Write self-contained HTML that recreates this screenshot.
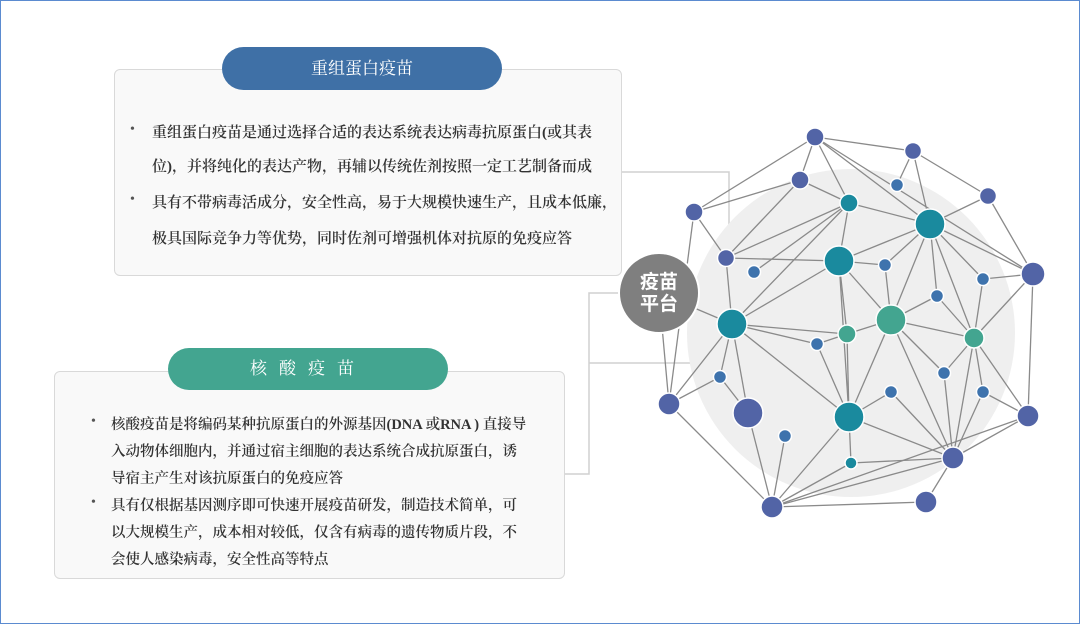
<!DOCTYPE html>
<html><head><meta charset="utf-8"><style>
body{margin:0;width:1080px;height:624px;background:#fff;position:relative;overflow:hidden;font-family:"Liberation Serif","Noto Serif CJK SC",serif;}
.frame{position:absolute;left:0;top:0;width:1078px;height:622px;border:1px solid #5b8bd0;}
.box{position:absolute;background:#f9f9f9;border:1.5px solid #d9d9d9;border-radius:6px;box-sizing:border-box;}
.pill{position:absolute;border-radius:22px;color:#fff;text-align:center;font-size:17px;}
.t{position:absolute;font-size:15px;color:#333;white-space:nowrap;font-weight:600;}
.b{position:absolute;font-size:14px;color:#555;}
</style></head><body>
<div class="frame"></div>
<svg width="1080" height="624" style="position:absolute;left:0;top:0">
<g fill="none" stroke="#d0d0d0" stroke-width="1.5">
<polyline points="621,172 729,172 729,363 589,363"/>
<polyline points="620,293 589,293 589,474 564,474"/>
</g>
</svg>
<div class="box" style="left:114px;top:69px;width:508px;height:207px"></div>
<div class="pill" style="left:222px;top:47px;width:280px;height:43px;line-height:43px;background:#3f70a6">重组蛋白疫苗</div>
<div class="b" style="left:130px;top:122px">•</div>
<div class="b" style="left:130px;top:192px">•</div>
<div class="t" style="left:152px;top:121px">重组蛋白疫苗是通过选择合适的表达系统表达病毒抗原蛋白(或其表</div>
<div class="t" style="left:152px;top:155px">位)，并将纯化的表达产物，再辅以传统佐剂按照一定工艺制备而成</div>
<div class="t" style="left:152px;top:191px">具有不带病毒活成分，安全性高，易于大规模快速生产，且成本低廉，</div>
<div class="t" style="left:152px;top:227px">极具国际竞争力等优势，同时佐剂可增强机体对抗原的免疫应答</div>

<div class="box" style="left:54px;top:371px;width:511px;height:208px"></div>
<div class="pill" style="left:168px;top:348px;width:280px;height:42px;line-height:42px;background:#43a590;letter-spacing:12px">核酸疫苗</div>
<div class="b" style="left:91px;top:414px">•</div>
<div class="b" style="left:91px;top:495px">•</div>
<div class="t" style="left:111px;top:413px;font-size:14.5px">核酸疫苗是将编码某种抗原蛋白的外源基因(DNA 或RNA ) 直接导</div>
<div class="t" style="left:111px;top:440px;font-size:14.5px">入动物体细胞内，并通过宿主细胞的表达系统合成抗原蛋白，诱</div>
<div class="t" style="left:111px;top:467px;font-size:14.5px">导宿主产生对该抗原蛋白的免疫应答</div>
<div class="t" style="left:111px;top:494px;font-size:14.5px">具有仅根据基因测序即可快速开展疫苗研发，制造技术简单，可</div>
<div class="t" style="left:111px;top:521px;font-size:14.5px">以大规模生产，成本相对较低，仅含有病毒的遗传物质片段，不</div>
<div class="t" style="left:111px;top:548px;font-size:14.5px">会使人感染病毒，安全性高等特点</div>

<svg width="1080" height="624" style="position:absolute;left:0;top:0">
<circle cx="851" cy="333" r="164" fill="#efefef"/>
<g stroke="#8a8a8a" stroke-width="1.3">
<line x1="815" y1="137" x2="913" y2="151"/><line x1="815" y1="137" x2="800" y2="180"/><line x1="815" y1="137" x2="694" y2="212"/>
<line x1="815" y1="137" x2="849" y2="203"/><line x1="815" y1="137" x2="930" y2="224"/><line x1="815" y1="137" x2="1033" y2="274"/>
<line x1="913" y1="151" x2="988" y2="196"/><line x1="913" y1="151" x2="897" y2="185"/><line x1="913" y1="151" x2="930" y2="224"/>
<line x1="988" y1="196" x2="1033" y2="274"/><line x1="988" y1="196" x2="930" y2="224"/>
<line x1="800" y1="180" x2="694" y2="212"/><line x1="800" y1="180" x2="849" y2="203"/><line x1="800" y1="180" x2="726" y2="258"/>
<line x1="694" y1="212" x2="726" y2="258"/><line x1="694" y1="212" x2="669" y2="404"/>
<line x1="849" y1="203" x2="930" y2="224"/><line x1="849" y1="203" x2="839" y2="261"/><line x1="849" y1="203" x2="726" y2="258"/><line x1="849" y1="203" x2="754" y2="272"/><line x1="849" y1="203" x2="732" y2="324"/>
<line x1="930" y1="224" x2="839" y2="261"/><line x1="930" y1="224" x2="885" y2="265"/><line x1="930" y1="224" x2="891" y2="320"/><line x1="930" y1="224" x2="937" y2="296"/><line x1="930" y1="224" x2="974" y2="338"/><line x1="930" y1="224" x2="983" y2="279"/><line x1="930" y1="224" x2="1033" y2="274"/>
<line x1="1033" y1="274" x2="983" y2="279"/><line x1="1033" y1="274" x2="974" y2="338"/><line x1="1033" y1="274" x2="1028" y2="416"/>
<line x1="839" y1="261" x2="885" y2="265"/><line x1="839" y1="261" x2="891" y2="320"/><line x1="839" y1="261" x2="847" y2="334"/><line x1="839" y1="261" x2="732" y2="324"/><line x1="839" y1="261" x2="849" y2="417"/>
<line x1="885" y1="265" x2="891" y2="320"/>
<line x1="983" y1="279" x2="974" y2="338"/>
<line x1="937" y1="296" x2="891" y2="320"/><line x1="937" y1="296" x2="974" y2="338"/>
<line x1="891" y1="320" x2="847" y2="334"/><line x1="891" y1="320" x2="974" y2="338"/><line x1="891" y1="320" x2="944" y2="373"/><line x1="891" y1="320" x2="849" y2="417"/><line x1="891" y1="320" x2="953" y2="458"/>
<line x1="974" y1="338" x2="944" y2="373"/><line x1="974" y1="338" x2="983" y2="392"/><line x1="974" y1="338" x2="1028" y2="416"/><line x1="974" y1="338" x2="953" y2="458"/>
<line x1="726" y1="258" x2="732" y2="324"/><line x1="659" y1="293" x2="732" y2="324"/>
<line x1="732" y1="324" x2="847" y2="334"/><line x1="732" y1="324" x2="817" y2="344"/><line x1="732" y1="324" x2="849" y2="417"/><line x1="732" y1="324" x2="669" y2="404"/><line x1="732" y1="324" x2="720" y2="377"/><line x1="732" y1="324" x2="748" y2="413"/>
<line x1="847" y1="334" x2="817" y2="344"/><line x1="847" y1="334" x2="849" y2="417"/>
<line x1="817" y1="344" x2="849" y2="417"/>
<line x1="669" y1="404" x2="720" y2="377"/><line x1="669" y1="404" x2="772" y2="507"/><line x1="659" y1="293" x2="669" y2="404"/>
<line x1="720" y1="377" x2="748" y2="413"/>
<line x1="748" y1="413" x2="772" y2="507"/>
<line x1="785" y1="436" x2="772" y2="507"/>
<line x1="849" y1="417" x2="891" y2="392"/><line x1="849" y1="417" x2="851" y2="463"/><line x1="849" y1="417" x2="953" y2="458"/><line x1="849" y1="417" x2="772" y2="507"/>
<line x1="891" y1="392" x2="953" y2="458"/>
<line x1="944" y1="373" x2="953" y2="458"/>
<line x1="983" y1="392" x2="953" y2="458"/><line x1="983" y1="392" x2="1028" y2="416"/>
<line x1="1028" y1="416" x2="953" y2="458"/><line x1="1028" y1="416" x2="772" y2="507"/>
<line x1="851" y1="463" x2="953" y2="458"/><line x1="851" y1="463" x2="772" y2="507"/>
<line x1="953" y1="458" x2="772" y2="507"/><line x1="953" y1="458" x2="926" y2="502"/>
<line x1="772" y1="507" x2="926" y2="502"/>
<line x1="726" y1="258" x2="839" y2="261"/>
</g>
<g stroke="#fff" stroke-width="1.5">
<g fill="#5264a6">
<circle cx="815" cy="137" r="9"/><circle cx="913" cy="151" r="8.5"/><circle cx="800" cy="180" r="9"/><circle cx="694" cy="212" r="9"/>
<circle cx="988" cy="196" r="8.5"/><circle cx="1033" cy="274" r="12"/><circle cx="726" cy="258" r="8.5"/><circle cx="669" cy="404" r="11"/>
<circle cx="748" cy="413" r="15"/><circle cx="1028" cy="416" r="11"/><circle cx="953" cy="458" r="11"/><circle cx="772" cy="507" r="11"/><circle cx="926" cy="502" r="11"/>
</g>
<g fill="#3e73ad">
<circle cx="897" cy="185" r="6.5"/><circle cx="754" cy="272" r="6.5"/><circle cx="885" cy="265" r="6.5"/><circle cx="983" cy="279" r="6.5"/>
<circle cx="937" cy="296" r="6.5"/><circle cx="817" cy="344" r="6.5"/><circle cx="720" cy="377" r="6.5"/><circle cx="944" cy="373" r="6.5"/>
<circle cx="891" cy="392" r="6.5"/><circle cx="983" cy="392" r="6.5"/><circle cx="785" cy="436" r="6.5"/>
</g>
<g fill="#1a8a9e">
<circle cx="849" cy="203" r="9"/><circle cx="930" cy="224" r="15"/><circle cx="839" cy="261" r="15"/><circle cx="732" cy="324" r="15"/><circle cx="849" cy="417" r="15"/><circle cx="851" cy="463" r="6"/>
</g>
<g fill="#43a590">
<circle cx="891" cy="320" r="15"/><circle cx="847" cy="334" r="9"/><circle cx="974" cy="338" r="10"/>
</g>
<circle cx="659" cy="293" r="40" fill="#7f7f7f" stroke-width="2"/>
</g>
<text x="659" y="288" text-anchor="middle" fill="#fff" font-size="19" font-weight="bold" font-family="Liberation Sans,Noto Sans CJK SC,sans-serif">疫苗</text>
<text x="659" y="310" text-anchor="middle" fill="#fff" font-size="19" font-weight="bold" font-family="Liberation Sans,Noto Sans CJK SC,sans-serif">平台</text>
</svg>
</body></html>
